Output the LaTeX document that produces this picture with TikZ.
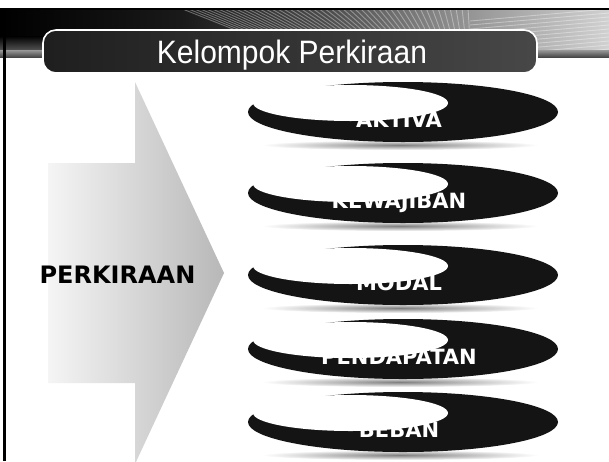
\documentclass[tikz,border=0pt]{standalone}
\usepackage{fontspec}
\setmainfont{Liberation Sans}
\newfontfamily\verdana{DejaVu Sans}
\usetikzlibrary{shapes.geometric}

\pgfdeclarehorizontalshading{bannershade}{100bp}{color(0bp)=(black); color(25bp)=(black);
  color(40bp)=(black!90); color(52bp)=(black!70); color(62bp)=(black!45); color(75bp)=(black!18); color(100bp)=(black!18)}

\tikzset{
  disc/.style={ellipse, fill=black!92, minimum width=310pt, minimum height=60pt, inner sep=0pt},
  bite/.style={ellipse, fill=white, minimum width=195pt, minimum height=36pt, inner sep=0pt},
  itemtext/.style={text=white, font=\verdana\bfseries\fontsize{21}{21}\selectfont, inner sep=0pt},
  ray/.style={white, opacity=.35, line width=.9pt},
  titlebox/.style={rounded corners=13pt, draw=white, line width=1.6pt, left color=black!88, right color=black!72,
    minimum width=494pt, minimum height=43pt, inner sep=0pt}
}

\begin{document}
\begin{tikzpicture}[x=1pt,y=-1pt]
  \useasboundingbox[fill=white] (0,0) rectangle (609,461);

  % banner
  \shade[shading=bannershade] (0,8) rectangle (609,50);
  \begin{scope}
    \clip (0,8) rectangle (609,50);
    \coordinate (focus) at (475,125);
    \foreach \x in {180,186,...,470}
      \draw[ray] (focus) -- (\x,8);
    \foreach \y in {9,13,...,49}
      \draw[ray] (470,\y+12) -- (609,\y);
    \shade[top color=black, bottom color=black!55, opacity=.7] (0,36) rectangle (140,50);
  \end{scope}
  \draw[black, line width=2pt] (0,9) -- (609,9);
  \shade[top color=black!40, bottom color=black!72] (0,50) rectangle (609,57);
  \draw[black, line width=3pt] (4.5,8) -- (4.5,461);

  % title
  \node[titlebox] (title) at (290,51.5) {};
  \node[text=white, font=\fontsize{30}{30}\selectfont, anchor=base, inner sep=0pt, yscale=1.08] (titletext) at (292,63) {Kelompok Perkiraan};

  % arrow
  \shade[left color=black!4, right color=black!28]
    (48,163) -- (135,163) -- (135,82) -- (224,273) -- (135,464) -- (135,383) -- (48,383) -- cycle;
  \node[font=\verdana\bfseries\fontsize{24}{24}\selectfont, anchor=base, inner sep=0pt] (perkiraan) at (117.5,283) {PERKIRAAN};

  % kelompok
  \foreach \y/\txt/\nm in {112/AKTIVA/aktiva, 193/KEWAJIBAN/kewajiban, 275/MODAL/modal,
                           349/PENDAPATAN/pendapatan, 422/BEBAN/beban}{
    \shade[inner color=black!50, outer color=white] (400,\y+33) ellipse (138 and 5);
    \node[disc] (\nm) at (403,\y) {};
    \node[itemtext, anchor=base] (\nm-txt) at (399,\y+15.5) {\txt};
    \node[bite] (\nm-bite) at (350.5,\y-9) {};
  }
\end{tikzpicture}
\end{document}
